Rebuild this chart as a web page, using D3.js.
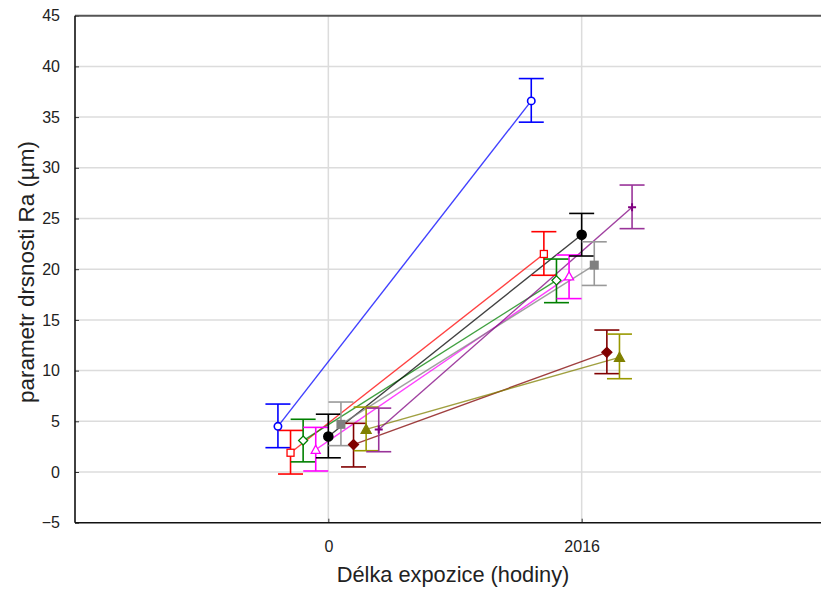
<!DOCTYPE html>
<html>
<head>
<meta charset="utf-8">
<script src="https://cdn.jsdelivr.net/npm/d3@7"></script>
<style>
  html, body { margin: 0; padding: 0; background: #fff; }
  svg { display: block; }
  text { font-family: "Liberation Sans", Arial, sans-serif; fill: #222; }
</style>
</head>
<body>
<svg id="chart" width="821" height="590"></svg>
<script>
// ---- data ----
const categories = ["0", "2016"];
const yTicks = [-5, 0, 5, 10, 15, 20, 25, 30, 35, 40, 45];
const seriesNames = ["s1", "s2", "s3", "s4", "s5", "s6", "s7", "s8", "s9"];
// mean values at each category (0 h, 2016 h)
const mean0    = [4.5, 1.9, 3.1, 2.2, 3.5, 4.7, 2.7, 4.2, 4.2];
const mean2016 = [36.6, 21.5, 18.9, 19.3, 23.4, 20.4, 11.8, 11.3, 26.1];
// error bar bounds
const low0     = [2.4, -0.2, 1.0, 0.1, 1.4, 2.6, 0.5, 2.1, 2.0];
const high0    = [6.7, 4.1, 5.2, 4.4, 5.7, 6.9, 4.8, 6.4, 6.3];
const low2016  = [34.5, 19.4, 16.7, 17.1, 21.3, 18.4, 9.7, 9.2, 24.0];
const high2016 = [38.8, 23.7, 21.0, 21.4, 25.5, 22.7, 14.0, 13.6, 28.3];

// ---- styles ----
const colors = ["#0000ff", "#ff0000", "#008000", "#ff00ff", "#000000", "#808080", "#800000", "#808000", "#800080"];
const barColors = ["#0000ff", "#ff0000", "#008000", "#ff00ff", "#000000", "#999999", "#800000", "#999900", "#993399"];
const shapes = ["circle", "square", "diamond", "triangle", "circle", "square", "diamond", "triangle", "plus"];
const filled = [false, false, false, false, true, true, true, true, true];

const svg = d3.select("#chart");
const mLeft = 75, mRight = 835, mTop = 15.7, mBottom = 522.7;

const x = d3.scalePoint().domain(categories).range([mLeft, mRight]).padding(1);
const y = d3.scaleLinear().domain([-5, 45]).range([mBottom, mTop]);
const jitter = 12.6;

// grid
const g = svg.append("g");
g.selectAll("line.hg").data(yTicks.filter(t => t > -5 && t < 45)).enter().append("line")
  .attr("x1", mLeft).attr("x2", mRight).attr("y1", d => y(d)).attr("y2", d => y(d))
  .attr("stroke", "#dcdcdc").attr("stroke-width", 1.5);
g.selectAll("line.vg").data(categories).enter().append("line")
  .attr("x1", d => x(d)).attr("x2", d => x(d)).attr("y1", mTop).attr("y2", mBottom)
  .attr("stroke", "#dcdcdc").attr("stroke-width", 1.5);

// axes
const yAxis = d3.axisLeft(y).tickValues(yTicks).tickSize(-4).tickPadding(15).tickFormat(d3.format("d"));
const ya = svg.append("g").attr("transform", `translate(${mLeft},0)`).call(yAxis);
ya.select(".domain").remove();
ya.selectAll(".tick line").attr("stroke", "#333");
ya.selectAll(".tick text").attr("font-size", 16).attr("fill", "#222")
  .attr("font-family", "Liberation Sans, Arial, sans-serif");

const xAxis = d3.axisBottom(x).tickSize(-4).tickPadding(18);
const xa = svg.append("g").attr("transform", `translate(0,${mBottom})`).call(xAxis);
xa.select(".domain").remove();
xa.selectAll(".tick line").attr("stroke", "#333");
xa.selectAll(".tick text").attr("font-size", 16).attr("fill", "#222")
  .attr("font-family", "Liberation Sans, Arial, sans-serif");

// frame
svg.append("line").attr("x1", mLeft).attr("x2", mRight + 5).attr("y1", mTop).attr("y2", mTop)
  .attr("stroke", "#555").attr("stroke-width", 2);
svg.append("line").attr("x1", mLeft).attr("x2", mRight + 5).attr("y1", mBottom).attr("y2", mBottom)
  .attr("stroke", "#111").attr("stroke-width", 1.6);
svg.append("line").attr("x1", mLeft).attr("x2", mLeft).attr("y1", mTop).attr("y2", mBottom)
  .attr("stroke", "#111").attr("stroke-width", 1.6);

// titles
svg.append("text").attr("x", 453).attr("y", 581.5)
  .attr("text-anchor", "middle").attr("font-size", 21.8).attr("fill", "#222")
  .text("Délka expozice (hodiny)");
svg.append("text").attr("transform", "translate(34,272) rotate(-90)")
  .attr("text-anchor", "middle").attr("font-size", 22.4).attr("fill", "#222")
  .text("parametr drsnosti Ra (µm)");

// series
const data = seriesNames.map((n, i) => ({
  i,
  pts: [
    { cat: categories[0], v: mean0[i], lo: low0[i], hi: high0[i] },
    { cat: categories[1], v: mean2016[i], lo: low2016[i], hi: high2016[i] }
  ]
}));
const px = (i, cat) => x(cat) + (i - 4) * jitter;

const sg = svg.append("g");
// lines
data.forEach(s => {
  sg.append("line")
    .attr("x1", px(s.i, s.pts[0].cat)).attr("y1", y(s.pts[0].v))
    .attr("x2", px(s.i, s.pts[1].cat)).attr("y2", y(s.pts[1].v))
    .attr("stroke", colors[s.i]).attr("stroke-width", 1.4).attr("stroke-opacity", 0.75);
});
// error bars
const capW = 12.5;
data.forEach(s => {
  s.pts.forEach(p => {
    const cx = px(s.i, p.cat);
    const eg = sg.append("g").attr("stroke", barColors[s.i]).attr("stroke-width", 1.6).attr("fill", "none");
    eg.append("line").attr("x1", cx).attr("x2", cx).attr("y1", y(p.lo)).attr("y2", y(p.hi));
    eg.append("line").attr("x1", cx - capW).attr("x2", cx + capW).attr("y1", y(p.lo)).attr("y2", y(p.lo));
    eg.append("line").attr("x1", cx - capW).attr("x2", cx + capW).attr("y1", y(p.hi)).attr("y2", y(p.hi));
  });
});
// markers
function marker(gr, shape, cx, cy, col, fill) {
  const fc = fill ? col : "#fff";
  if (shape === "circle") {
    gr.append("circle").attr("cx", cx).attr("cy", cy).attr("r", fill ? 4.5 : 3.7)
      .attr("fill", fc).attr("stroke", col).attr("stroke-width", 1.6);
  } else if (shape === "square") {
    const s = fill ? 9 : 7;
    gr.append("rect").attr("x", cx - s / 2).attr("y", cy - s / 2).attr("width", s).attr("height", s)
      .attr("fill", fc).attr("stroke", col).attr("stroke-width", fill ? 0 : 1.3);
  } else if (shape === "diamond") {
    const s = fill ? 5 : 4.5;
    gr.append("path").attr("d", `M${cx},${cy - s}L${cx + s},${cy}L${cx},${cy + s}L${cx - s},${cy}Z`)
      .attr("fill", fc).attr("stroke", col).attr("stroke-width", 1.3);
  } else if (shape === "triangle") {
    const s = fill ? 5 : 4.5;
    gr.append("path").attr("d", `M${cx},${cy - s}L${cx + s},${cy + s * 0.8}L${cx - s},${cy + s * 0.8}Z`)
      .attr("fill", fc).attr("stroke", col).attr("stroke-width", 1.3);
  } else if (shape === "plus") {
    gr.append("path").attr("d", `M${cx - 4},${cy}L${cx + 4},${cy}M${cx},${cy - 4}L${cx},${cy + 4}`)
      .attr("stroke", col).attr("stroke-width", 2);
  }
}
data.forEach(s => {
  s.pts.forEach(p => marker(sg, shapes[s.i], px(s.i, p.cat), y(p.v), colors[s.i], filled[s.i]));
});
</script>
</body>
</html>
